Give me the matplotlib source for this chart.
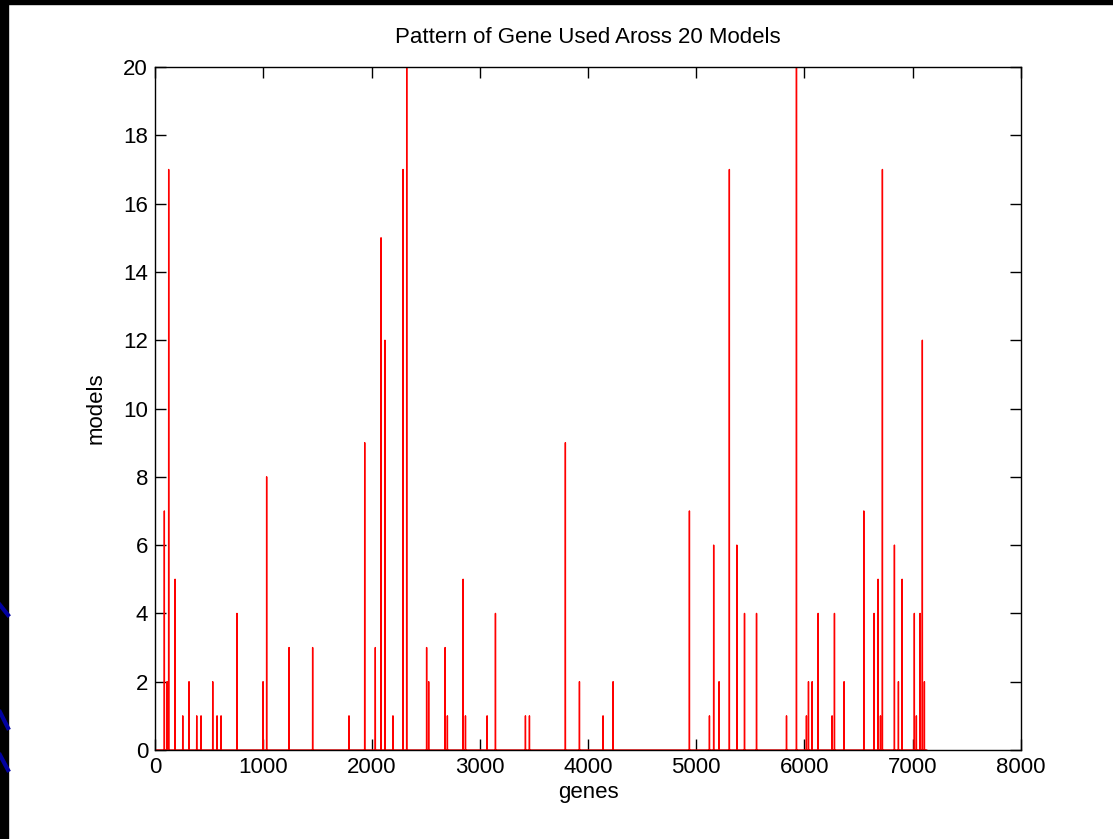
import numpy as np
import matplotlib
matplotlib.use("Agg")
import matplotlib.pyplot as plt
from matplotlib.lines import Line2D

plt.rcParams['font.family'] = ['Liberation Sans', 'DejaVu Sans']
plt.rcParams['path.simplify'] = False

n_genes = 7129

# gene index of each spike and how many of the 20 models used it
spike_genes = [86, 111, 126, 185, 256, 314, 385, 425, 533, 573, 610, 757,
               998, 1031, 1238, 1456, 1792, 1937, 2035, 2088, 2124, 2198,
               2291, 2325, 2509, 2528, 2680, 2701, 2846, 2868, 3068, 3145,
               3422, 3459, 3791, 3921, 4139, 4232, 4937, 5122, 5161, 5211,
               5306, 5375, 5446, 5557, 5834, 5926, 6018, 6037, 6071, 6126,
               6255, 6277, 6366, 6548, 6643, 6680, 6702, 6720, 6831, 6868,
               6902, 7015, 7034, 7068, 7089, 7108]
spike_models = [7, 2, 17, 5, 1, 2, 1, 1, 2, 1, 1, 4,
                2, 8, 3, 3, 1, 9, 3, 15, 12, 1,
                17, 20, 3, 2, 3, 1, 5, 1, 1, 4,
                1, 1, 9, 2, 1, 2, 7, 1, 6, 2,
                17, 6, 4, 4, 1, 20, 1, 2, 2, 4,
                1, 4, 2, 7, 4, 5, 1, 17, 6, 2,
                5, 4, 1, 4, 12, 2]

counts = np.zeros(n_genes)
counts[np.array(spike_genes) - 1] = spike_models
genes = np.arange(1, n_genes + 1)

fig = plt.figure(figsize=(11.13, 8.39), dpi=100)
fig.patch.set_facecolor('white')

ax = fig.add_axes([0.1393, 0.1061, 0.7780, 0.8140])
ax.plot(genes, counts, color='#ff0000', lw=1.0)
ax.set_xlim(0, 8000)
ax.set_ylim(0, 20)
ax.set_xticks(range(0, 8001, 1000))
ax.set_yticks(range(0, 21, 2))
ax.tick_params(direction='in', length=8, width=1, labelsize=16,
               top=True, right=True, pad=5)
for s in ax.spines.values():
    s.set_linewidth(1)
ax.set_title('Pattern of Gene Used Aross 20 Models', fontsize=16, pad=17)
ax.set_xlabel('genes', fontsize=16, labelpad=3)
ax.set_ylabel('models', fontsize=16, labelpad=12)

# black frame of the slide around the figure
W, H = 1113, 839
fig.patches.append(plt.Rectangle((0, 0), 8 / W, 1, transform=fig.transFigure,
                                 color='black', zorder=10))
fig.patches.append(plt.Rectangle((0, 1 - 4 / H), 1, 4 / H, transform=fig.transFigure,
                                 color='black', zorder=10))
for y0, y1 in [(605, 615), (712, 728), (755, 770)]:
    fig.lines.append(Line2D([0, 8 / W], [1 - y0 / H, 1 - y1 / H], transform=fig.transFigure,
                            color='#0000a0', lw=3, zorder=11))

fig.savefig('out.png', dpi=100)
